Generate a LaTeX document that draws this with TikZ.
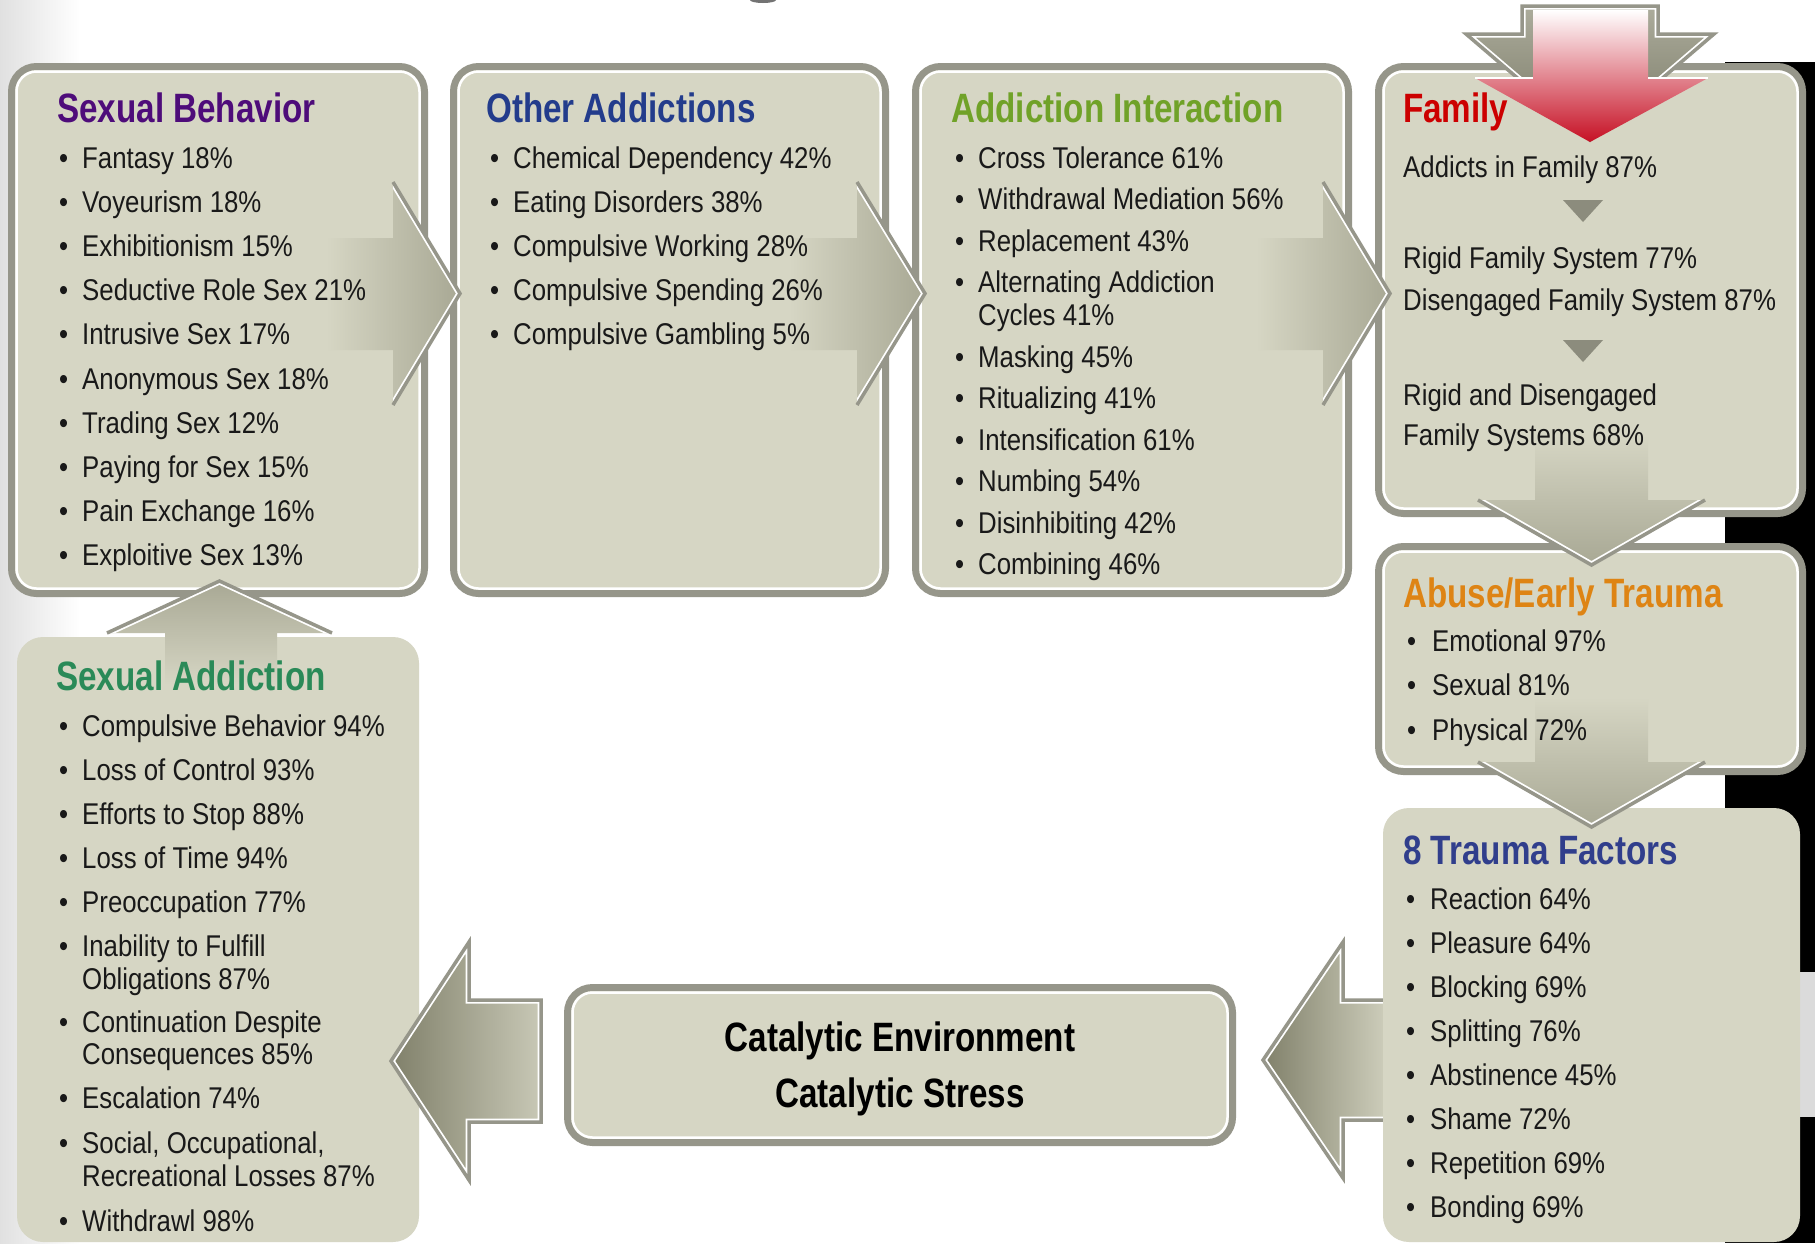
\documentclass[tikz,border=0pt]{standalone}
\usepackage{fontspec}
\setmainfont{Liberation Sans}[FakeStretch=0.86]
\newfontfamily\hfont{Liberation Sans}[FakeStretch=0.81]
\definecolor{boxfill}{RGB}{214,214,196}
\definecolor{bordergray}{RGB}{150,150,138}
\definecolor{arrowdark}{RGB}{128,128,106}
\definecolor{arrowtip}{RGB}{168,168,148}
\definecolor{textblack}{RGB}{25,25,25}
\definecolor{cpurple}{RGB}{78,12,122}
\definecolor{cblue}{RGB}{35,60,140}
\definecolor{cgreen}{RGB}{112,162,40}
\definecolor{cred}{RGB}{204,0,0}
\definecolor{corange}{RGB}{222,132,20}
\definecolor{cbluetwo}{RGB}{48,62,140}
\definecolor{cgreentwo}{RGB}{42,138,88}
\definecolor{tri}{RGB}{140,140,125}
\definecolor{redpink}{RGB}{232,165,172}
\definecolor{reddeep}{RGB}{198,16,36}
\newcommand\innerline[1]{\draw[white, line width=2.5pt, rounded corners=20pt] ([shift={(5,5)}]#1.north west) rectangle ([shift={(-5,-5)}]#1.south east);}
\newcommand\blockarrow[3]{%
  \path[#3] #1;
  \begin{scope}\clip #1; \draw[white, line width=7pt, line join=miter] #2; \end{scope}
  \draw[bordergray, line width=3.5pt, line join=miter] #2;}
\newcommand\bitem[5]{\node[bt] (#1-b) at (#2,#4) {•}; \node[bt] (#1) at (#3,#4) {#5};}
\tikzset{
  fancybox/.style={rectangle, draw=bordergray, line width=7pt, fill=boxfill, rounded corners=25pt, inner sep=0pt, outer sep=0pt, anchor=north west},
  plainbox/.style={rectangle, fill=boxfill, rounded corners=26pt, inner sep=0pt, outer sep=0pt, anchor=north west},
  hd/.style={anchor=base west, inner sep=0pt, font=\hfont\bfseries\fontsize{41}{41}\selectfont},
  bt/.style={anchor=base west, inner sep=0pt, font=\fontsize{30}{30}\selectfont, text=textblack},
}
\begin{document}
\begin{tikzpicture}[x=1pt,y=-1pt]
\useasboundingbox (0,0) rectangle (1815,1243);
% background
\fill[white] (0,0) rectangle (1815,1243);
\shade[left color=black!12, right color=white] (0,0) rectangle (80,1243);
\fill[black] (1725,62) rectangle (1815,1243);
\fill[black!14] (1725,972) rectangle (1815,1117);
\fill[black!55] (763,0) ellipse [x radius=13, y radius=3];

% arrow hidden under the trauma box
\blockarrow{(1400,1000) -- (1343,1000) -- (1343,942) -- (1263,1060) -- (1343,1178) -- (1343,1120) -- (1400,1120) -- cycle}
  {(1390,1000) -- (1343,1000) -- (1343,942) -- (1263,1060) -- (1343,1178) -- (1343,1120) -- (1390,1120)}
  {left color=arrowdark, right color=boxfill}

% boxes
\node[fancybox, minimum width=413pt, minimum height=527pt] (sb) at (11.5,66.5) {};
\innerline{sb}
\node[fancybox, minimum width=432pt, minimum height=527pt] (oa) at (453.5,66.5) {};
\innerline{oa}
\node[fancybox, minimum width=433pt, minimum height=527pt] (ai) at (915.5,66.5) {};
\innerline{ai}
\node[fancybox, minimum width=424pt, minimum height=447pt] (fam) at (1378.5,66.5) {};
\innerline{fam}
\node[fancybox, minimum width=424pt, minimum height=225pt] (ab) at (1378.5,546.5) {};
\innerline{ab}
\node[fancybox, minimum width=665pt, minimum height=155pt] (cat) at (567.5,987.5) {};
\innerline{cat}
\node[plainbox, minimum width=417pt, minimum height=434pt] (tf) at (1383,808) {};
\node[plainbox, minimum width=402pt, minimum height=605pt] (sa) at (17,637) {};

% right arrows
\blockarrow{(326,238) -- (393,238) -- (393,182) -- (460,293.5) -- (393,405) -- (393,350) -- (326,350) -- cycle}
  {(393,182) -- (460,293.5) -- (393,405)}
  {left color=boxfill, middle color=arrowdark, right color=arrowtip}
\blockarrow{(789,238) -- (857,238) -- (857,182) -- (925,293.5) -- (857,405) -- (857,350) -- (789,350) -- cycle}
  {(857,182) -- (925,293.5) -- (857,405)}
  {left color=boxfill, middle color=arrowdark, right color=arrowtip}
\blockarrow{(1256,238) -- (1323,238) -- (1323,182) -- (1390,293.5) -- (1323,405) -- (1323,350) -- (1256,350) -- cycle}
  {(1323,182) -- (1390,293.5) -- (1323,405)}
  {left color=boxfill, middle color=arrowdark, right color=arrowtip}
% down arrows
\blockarrow{(1535,435) -- (1648,435) -- (1648,500) -- (1705,500) -- (1591.5,565) -- (1478,500) -- (1535,500) -- cycle}
  {(1478,500) -- (1591.5,565) -- (1705,500)}
  {top color=boxfill, middle color=arrowdark, bottom color=arrowtip}
\blockarrow{(1535,697) -- (1648,697) -- (1648,762) -- (1705,762) -- (1591.5,827) -- (1478,762) -- (1535,762) -- cycle}
  {(1478,762) -- (1591.5,827) -- (1705,762)}
  {top color=boxfill, middle color=arrowdark, bottom color=arrowtip}
% up arrow
\blockarrow{(165,685) -- (277,685) -- (277,633) -- (332,633) -- (219.5,581) -- (107,633) -- (165,633) -- cycle}
  {(107,633) -- (219.5,581) -- (332,633)}
  {bottom color=boxfill, middle color=arrowdark, top color=arrowtip}
% left arrow into sexual addiction
\blockarrow{(541,1000) -- (469,1000) -- (469,942) -- (391,1061) -- (469,1180) -- (469,1122) -- (541,1122) -- cycle}
  {(541,1000) -- (469,1000) -- (469,942) -- (391,1061) -- (469,1180) -- (469,1122) -- (541,1122) -- cycle}
  {left color=arrowdark, right color={rgb,255:red,200;green,200;blue,182}}
% top arrows
\blockarrow{(1522,6) -- (1658,6) -- (1658,34) -- (1714,34) -- (1590,140) -- (1466,34) -- (1522,34) -- cycle}
  {(1522,6) -- (1658,6) -- (1658,34) -- (1714,34) -- (1590,140) -- (1466,34) -- (1522,34) -- cycle}
  {top color={rgb,255:red,172;green,172;blue,156}, bottom color={rgb,255:red,120;green,120;blue,100}}
\shade[top color=white, middle color=redpink, bottom color=reddeep]
  (1533,10) -- (1648,10) -- (1648,78) -- (1708,78) -- (1590,142) -- (1475,78) -- (1533,78) -- cycle;
\draw[white, line width=2pt] (1475,78) -- (1533,78) (1648,78) -- (1708,78);

% family triangles
\fill[tri] (1563,200) -- (1603,200) -- (1583,222) -- cycle;
\fill[tri] (1563,340) -- (1603,340) -- (1583,362) -- cycle;

% Sexual Behavior
\node[hd, text=cpurple] (sbh) at (57,122) {Sexual Behavior};
\bitem{sb1}{59}{82}{168}{Fantasy 18\%}
\bitem{sb2}{59}{82}{212}{Voyeurism 18\%}
\bitem{sb3}{59}{82}{256}{Exhibitionism 15\%}
\bitem{sb4}{59}{82}{300}{Seductive Role Sex 21\%}
\bitem{sb5}{59}{82}{344}{Intrusive Sex 17\%}
\bitem{sb6}{59}{82}{389}{Anonymous Sex 18\%}
\bitem{sb7}{59}{82}{433}{Trading Sex 12\%}
\bitem{sb8}{59}{82}{477}{Paying for Sex 15\%}
\bitem{sb9}{59}{82}{521}{Pain Exchange 16\%}
\bitem{sb10}{59}{82}{565}{Exploitive Sex 13\%}

% Other Addictions
\node[hd, text=cblue] (oah) at (486,122) {Other Addictions};
\bitem{oa1}{490}{513}{168}{Chemical Dependency 42\%}
\bitem{oa2}{490}{513}{212}{Eating Disorders 38\%}
\bitem{oa3}{490}{513}{256}{Compulsive Working 28\%}
\bitem{oa4}{490}{513}{300}{Compulsive Spending 26\%}
\bitem{oa5}{490}{513}{344}{Compulsive Gambling 5\%}

% Addiction Interaction
\node[hd, text=cgreen] (aih) at (951,122) {Addiction Interaction};
\bitem{ai1}{955}{978}{168}{Cross Tolerance 61\%}
\bitem{ai2}{955}{978}{209.5}{Withdrawal Mediation 56\%}
\bitem{ai3}{955}{978}{251}{Replacement 43\%}
\bitem{ai4}{955}{978}{292.5}{Alternating Addiction}
\node[bt] (ai4b) at (978,325.5) {Cycles 41\%};
\bitem{ai5}{955}{978}{367}{Masking 45\%}
\bitem{ai6}{955}{978}{408.5}{Ritualizing 41\%}
\bitem{ai7}{955}{978}{450}{Intensification 61\%}
\bitem{ai8}{955}{978}{491.5}{Numbing 54\%}
\bitem{ai9}{955}{978}{533}{Disinhibiting 42\%}
\bitem{ai10}{955}{978}{574.5}{Combining 46\%}

% Family
\node[hd, text=cred] (famh) at (1403,122) {Family};
\node[bt] (fam1) at (1403,177) {Addicts in Family 87\%};
\node[bt] (fam2) at (1403,268) {Rigid Family System 77\%};
\node[bt] (fam3) at (1403,310) {Disengaged Family System 87\%};
\node[bt] (fam4) at (1403,405) {Rigid and Disengaged};
\node[bt] (fam5) at (1403,445) {Family Systems 68\%};

% Abuse
\node[hd, text=corange] (abh) at (1403,607) {Abuse/Early Trauma};
\bitem{ab1}{1407}{1432}{651}{Emotional 97\%}
\bitem{ab2}{1407}{1432}{695.5}{Sexual 81\%}
\bitem{ab3}{1407}{1432}{740}{Physical 72\%}

% 8 Trauma Factors
\node[hd, text=cbluetwo] (tfh) at (1403,864) {8 Trauma Factors};
\bitem{tf1}{1406}{1430}{909}{Reaction 64\%}
\bitem{tf2}{1406}{1430}{953}{Pleasure 64\%}
\bitem{tf3}{1406}{1430}{997}{Blocking 69\%}
\bitem{tf4}{1406}{1430}{1041}{Splitting 76\%}
\bitem{tf5}{1406}{1430}{1085}{Abstinence 45\%}
\bitem{tf6}{1406}{1430}{1129}{Shame 72\%}
\bitem{tf7}{1406}{1430}{1173}{Repetition 69\%}
\bitem{tf8}{1406}{1430}{1217}{Bonding 69\%}

% Sexual Addiction
\node[hd, text=cgreentwo] (sah) at (56,690) {Sexual Addiction};
\bitem{sa1}{59}{82}{736}{Compulsive Behavior 94\%}
\bitem{sa2}{59}{82}{780}{Loss of Control 93\%}
\bitem{sa3}{59}{82}{824}{Efforts to Stop 88\%}
\bitem{sa4}{59}{82}{868}{Loss of Time 94\%}
\bitem{sa5}{59}{82}{912}{Preoccupation 77\%}
\bitem{sa6}{59}{82}{956}{Inability to Fulfill}
\node[bt] (sa6b) at (82,989) {Obligations 87\%};
\bitem{sa7}{59}{82}{1032}{Continuation Despite}
\node[bt] (sa7b) at (82,1064) {Consequences 85\%};
\bitem{sa8}{59}{82}{1108}{Escalation 74\%}
\bitem{sa9}{59}{82}{1153}{Social, Occupational,}
\node[bt] (sa9b) at (82,1186) {Recreational Losses 87\%};
\bitem{sa10}{59}{82}{1231}{Withdrawl 98\%}

% Catalytic
\node[hd, anchor=base, text=black] (cat1) at (900,1051) {Catalytic Environment};
\node[hd, anchor=base, text=black] (cat2) at (900,1107) {Catalytic Stress};
\end{tikzpicture}
\end{document}
